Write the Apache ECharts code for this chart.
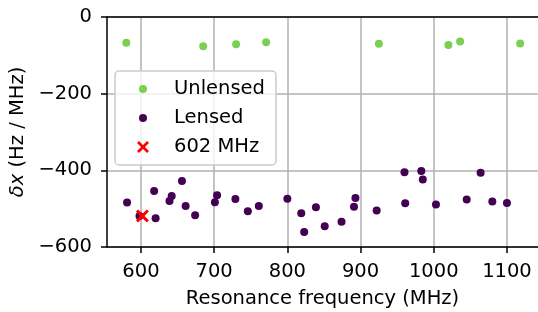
<!DOCTYPE html>
<html>
<head>
<meta charset="utf-8">
<script src="https://cdn.jsdelivr.net/npm/echarts@6/dist/echarts.min.js"></script>
<style>
  html, body { margin: 0; padding: 0; background: #fff; }
  #chart { width: 538px; height: 312px; }
</style>
</head>
<body>
<div id="chart"></div>
<script>
'use strict';

// unlensed resonators
var unlensedFreq = [580, 685, 730, 771, 925, 1020, 1036, 1118];
var unlensedShift = [-67, -76, -71, -66, -70, -73, -64, -69];

// lensed resonators
var lensedFreq = [581, 598, 618, 620, 639, 642, 656, 661, 674, 701, 704, 729, 746, 761,
  800, 819, 823, 839, 851, 874, 891, 893, 922, 960, 961, 983, 985, 1003, 1045, 1064, 1080, 1100];
var lensedShift = [-484, -519, -454, -525, -480, -467, -428, -493, -517, -483, -465, -475, -507, -493,
  -474, -512, -561, -496, -546, -534, -495, -472, -505, -405, -486, -402, -424, -489, -476, -406, -481, -485];

// highlighted resonator
var markFreq = [602];
var markShift = [-519];

var xTicks = [600, 700, 800, 900, 1000, 1100];
var yTicks = [0, -200, -400, -600];

function pairs(xs, ys) {
  var out = [];
  for (var i = 0; i < xs.length; i++) out.push([xs[i], ys[i]]);
  return out;
}

var font = 'DejaVu Sans';
var fs = 19.5;
var crossPath = 'path://M1.6,0L5,3.4L8.4,0L10,1.6L6.6,5L10,8.4L8.4,10L5,6.6L1.6,10L0,8.4L3.4,5L0,1.6Z';
var myChart = echarts.init(document.getElementById('chart'), null, { renderer: 'canvas' });

var option = {
  animation: false,
  textStyle: { fontFamily: font },
  grid: { left: 107, right: 0, top: 17, bottom: 65, outerBoundsMode: 'none', containLabel: false },
  legend: [{
    data: ['Unlensed', 'Lensed'],
    orient: 'vertical',
    left: 115,
    top: 71,
    padding: [8, 11, 37, 24],
    itemWidth: 52,
    itemHeight: 8,
    itemGap: 9,
    backgroundColor: 'rgba(255,255,255,0.8)',
    borderColor: '#cccccc',
    borderWidth: 1.5,
    borderRadius: 4,
    textStyle: { fontFamily: font, fontSize: fs, color: '#000', lineHeight: 20 }
  }, {
    data: ['602 MHz'],
    orient: 'vertical',
    left: 115,
    top: 137,
    padding: [0, 0, 0, 22],
    itemWidth: 52,
    itemHeight: 12,
    textStyle: { fontFamily: font, fontSize: fs, color: '#000', lineHeight: 20 }
  }],
  xAxis: [{
    type: 'value',
    min: 553.6,
    max: 1142.4,
    name: 'Resonance frequency (MHz)',
    nameLocation: 'middle',
    nameGap: 42,
    nameTextStyle: { fontFamily: font, fontSize: fs, color: '#000' },
    axisLine: { show: true, onZero: false, lineStyle: { color: '#000', width: 1.5 } },
    axisTick: { show: true, length: 6, customValues: xTicks, lineStyle: { color: '#000', width: 1.5 } },
    axisLabel: {
      customValues: xTicks, margin: 15, fontFamily: font, fontSize: fs, color: '#000',
      formatter: function(v) { return String(v); }
    },
    splitLine: { show: true, lineStyle: { color: '#b0b0b0', width: 1.5 } }
  }, {
    type: 'value',
    position: 'top',
    min: 553.6,
    max: 1142.4,
    axisLine: { show: true, onZero: false, lineStyle: { color: '#000', width: 1.5 } },
    axisTick: { show: false },
    axisLabel: { show: false },
    splitLine: { show: false }
  }],
  yAxis: [{
    type: 'value',
    min: -600,
    max: 0,
    interval: 200,
    name: '{i|δx} (Hz / MHz)',
    nameLocation: 'middle',
    nameGap: 78,
    nameTextStyle: {
      fontFamily: font, fontSize: fs, color: '#000',
      rich: { i: { fontFamily: font, fontSize: fs, fontStyle: 'italic', color: '#000' } }
    },
    axisLine: { show: true, onZero: false, lineStyle: { color: '#000', width: 1.5 } },
    axisTick: { show: true, length: 6, lineStyle: { color: '#000', width: 1.5 } },
    axisLabel: {
      margin: 15, fontFamily: font, fontSize: fs, color: '#000',
      customValues: yTicks,
      formatter: function(v) { return String(v).replace('-', '\u2212'); }
    },
    splitLine: { show: true, lineStyle: { color: '#b0b0b0', width: 1.5 } }
  }],
  series: [{
    name: 'Unlensed',
    type: 'scatter',
    symbol: 'circle',
    symbolSize: 8,
    itemStyle: { color: '#7ad151', opacity: 1 },
    data: pairs(unlensedFreq, unlensedShift)
  }, {
    name: 'Lensed',
    type: 'scatter',
    symbol: 'circle',
    symbolSize: 8,
    itemStyle: { color: '#440154', opacity: 1 },
    data: pairs(lensedFreq, lensedShift)
  }, {
    name: '602 MHz',
    type: 'scatter',
    symbol: crossPath,
    symbolSize: 13,
    itemStyle: { color: '#ff0000', opacity: 1 },
    z: 5,
    data: pairs(markFreq, markShift)
  }]
};

myChart.setOption(option);
</script>
</body>
</html>
